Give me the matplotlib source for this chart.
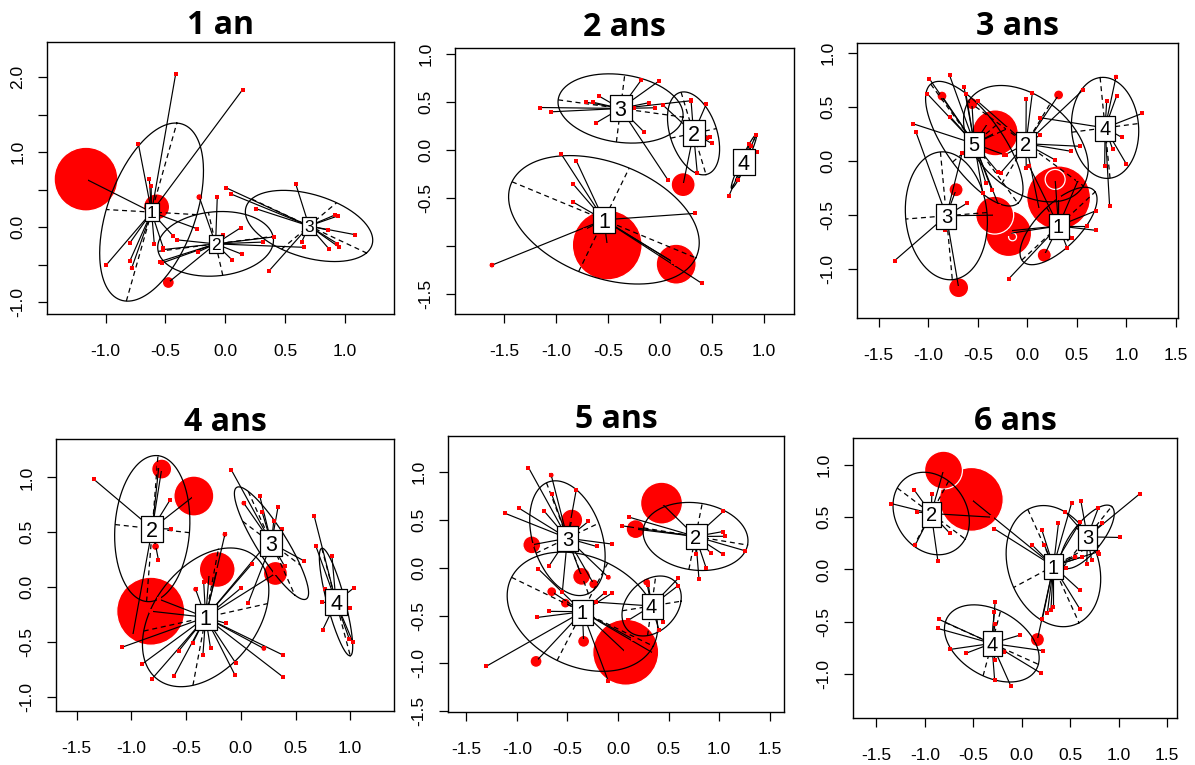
import numpy as np
import matplotlib
matplotlib.use("Agg")
import matplotlib.pyplot as plt
from matplotlib.path import Path

plt.rcParams['font.family'] = ['Liberation Sans', 'DejaVu Sans']
plt.rcParams['axes.unicode_minus'] = False

titles = ["1 an", "2 ans", "3 ans", "4 ans", "5 ans", "6 ans"]

# ---------------- Panel 1 (1 an) ----------------
p1_x = [-1.164, -0.415, 0.145, -0.727, -0.635, -0.997, -0.797, -0.797, -0.783, -0.593, -0.518, -0.435, -0.24, -0.574, -0.62,
        -0.067, -0.217, 0.128, 0.136, 0.058, 0.318, 0.41, 0.657, -0.407, -0.518, -0.546, -0.226, -0.476, -0.02, -0.53,
        0.006, 0.05, 0.256, 0.588, 0.368, 0.638, 0.866, 0.953, 1.08, 0.944, 0.86, 0.914, 0.936]
p1_y = [0.64, 2.04, 1.835, 1.115, 0.64, -0.51, -0.21, -0.45, -0.55, -0.23, -0.28, -0.12, -0.02, 0.27, 0.55,
        0.40, 0.40, -0.01, -0.36, -0.44, -0.20, -0.13, -0.27, -0.17, -0.30, -0.46, -0.33, -0.74, -0.10, -0.48,
        0.525, 0.44, 0.245, 0.58, -0.58, -0.20, -0.29, -0.27, -0.10, 0.15, -0.04, 0.16, -0.22]
p1_g = [1] * 15 + [2] * 15 + [3] * 13
p1_cx = [-0.616, -0.081, 0.70]
p1_cy = [0.20, -0.224, 0.015]
p1_ax = [0.211, 0.48, 0.48]
p1_ay = [1.188, 0.10, -0.36]
p1_bx = [-0.379, -0.06, 0.23]
p1_by = [0.034, 0.42, 0.31]
p1_bub_x = [-1.164, -0.574, -0.476, -0.217, -0.783, 0.136, 0.256, -0.02]
p1_bub_y = [0.64, 0.27, -0.74, 0.40, -0.55, -0.36, 0.245, -0.10]
p1_bub_v = [10.2, 1.7, 0.36, 0.12, 0.06, 0.06, 0.05, 0.05]
p1_xlim = (-1.49, 1.41)
p1_ylim = (-1.16, 2.47)
p1_xticks = [-1.0, -0.5, 0.0, 0.5, 1.0]
p1_xlabels = ["-1.0", "-0.5", "0.0", "0.5", "1.0"]
p1_yticks = [-1.0, -0.5, 0.0, 0.5, 1.0, 1.5, 2.0]
p1_ylabels = ["-1.0", "", "0.0", "", "1.0", "", "2.0"]

# ---------------- Panel 2 (2 ans) ----------------
p2_x = [-0.949, -0.804, -0.837, -0.837, -0.724, -1.615, -0.506, 0.34, 0.157, 0.404, 0.13,
        0.03, 0.446, 0.487, 0.50, 0.36, 0.224, 0.30, 0.45,
        -1.151, -1.045, -0.708, -0.644, -0.59, -0.612, -0.18, -0.01, -0.109, -0.051, -0.25, -0.154, 0.077, 0.295,
        0.663, 0.926, 0.936, 0.86, 0.88, 0.75]
p2_y = [-0.04, -0.11, -0.35, -0.54, -0.83, -1.20, -0.99, -0.66, -1.19, -1.39, -1.17,
        0.47, 0.48, 0.14, 0.07, -0.24, -0.36, 0.52, 0.13,
        0.445, 0.40, 0.50, 0.50, 0.567, 0.286, 0.73, 0.72, 0.494, 0.442, 0.435, 0.192, -0.31, 0.515,
        -0.48, 0.157, -0.02, 0.06, 0.04, -0.31]
p2_g = [1] * 11 + [2] * 8 + [3] * 14 + [4] * 6
p2_cx = [-0.538, 0.324, -0.378, 0.808]
p2_cy = [-0.727, 0.175, 0.435, -0.12]
p2_ax = [0.884, 0.12, 0.60, 0.118]
p2_ay = [-0.397, -0.43, -0.09, 0.28]
p2_bx = [0.243, 0.22, 0.04, 0.03]
p2_by = [0.54, 0.05, 0.35, -0.01]
p2_bub_x = [-0.506, 0.157, 0.224, -1.615]
p2_bub_y = [-0.99, -1.19, -0.36, -1.20]
p2_bub_v = [12.2, 4.0, 1.44, 0.09]
p2_xlim = (-1.97, 1.29)
p2_ylim = (-1.71, 1.066)
p2_xticks = [-1.5, -1.0, -0.5, 0.0, 0.5, 1.0]
p2_xlabels = ["-1.5", "-1.0", "-0.5", "0.0", "0.5", "1.0"]
p2_yticks = [-1.5, -1.0, -0.5, 0.0, 0.5, 1.0]
p2_ylabels = ["-1.5", "", "-0.5", "0.0", "0.5", "1.0"]

# ---------------- Panel 3 (3 ans) ----------------
p3_x = [0.69, 0.69, 0.60, -0.19, -0.18, 0.17, 0.28, 0.45, 0.515, 0.315, -0.19, 0.02, 0.40,
        -0.012, 0.05, -0.012, 0.13, 0.53, 0.44, 0.315, 0.566, -0.22, -0.27, 0.28, 0.12, -0.5,
        -1.34, -1.124, -0.694, -0.72, -0.61, -0.33, -0.66, -0.83,
        0.895, 1.16, 0.95, 0.86, 1.0, 0.78, 0.83, 0.80, 0.90, 0.13,
        -0.99, -0.785, -1.01, -1.157, -0.78, -0.64, -0.56, -0.862, -0.24, -0.285, -0.36, -0.325, -0.4, -0.45, -0.30, -0.42, -0.62, -0.2]
p3_y = [-0.46, -0.64, -0.60, -1.09, -0.645, -0.87, -0.17, -0.71, -0.17, -0.34, -0.67, -0.05, -0.8,
        0.57, 0.63, -0.065, 0.24, 0.136, 0.09, 0.61, 0.66, 0.06, -0.11, 0.01, -0.45, 0.55,
        -0.92, 0.265, -1.17, -0.265, -0.39, -0.50, 0.07, -0.64,
        0.78, 0.44, 0.22, 0.11, -0.03, -0.05, -0.42, 0.55, 0.60, 0.40,
        0.76, 0.79, 0.62, 0.345, 0.41, 0.685, 0.53, 0.60, 0.06, -0.42, -0.265, 0.26, 0.35, -0.30, -0.10, -0.2, 0.62, 0.3]
p3_g = [1] * 13 + [2] * 13 + [3] * 8 + [4] * 10 + [5] * 18
p3_cx = [0.314, -0.015, -0.818, 0.784, -0.536]
p3_cy = [-0.60, 0.16, -0.506, 0.306, 0.16]
p3_ax = [0.37, 0.58, 0.06, -0.05, 0.44]
p3_ay = [0.315, -0.39, -0.59, 0.465, -0.55]
p3_bx = [0.12, 0.245, -0.41, 0.336, 0.22]
p3_by = [-0.17, 0.37, -0.03, 0.04, 0.17]
p3_bub_x = [0.315, -0.325, -0.19, -0.33, 0.28, -0.694, -0.72, 0.17, -0.56, -0.862, 0.315, -0.15, 0.895, 0.566]
p3_bub_y = [-0.34, 0.26, -0.67, -0.50, -0.17, -1.17, -0.265, -0.87, 0.53, 0.60, 0.61, -0.70, 0.78, 0.66]
p3_bub_v = [10.2, 5.3, 5.3, 3.6, 1.0, 1.0, 0.5, 0.5, 0.36, 0.25, 0.25, 0.16, 0.06, 0.04]
p3_xlim = (-1.72, 1.52)
p3_ylim = (-1.45, 1.09)
p3_xticks = [-1.5, -1.0, -0.5, 0.0, 0.5, 1.0, 1.5]
p3_xlabels = ["-1.5", "-1.0", "-0.5", "0.0", "0.5", "1.0", "1.5"]
p3_yticks = [-1.0, -0.5, 0.0, 0.5, 1.0]
p3_ylabels = ["-1.0", "-0.5", "0.0", "0.5", "1.0"]

# ---------------- Panel 4 (4 ans) ----------------
p4_x = [-1.09, -0.90, -0.815, -0.61, -0.566, -0.44, -0.347, -0.277, -0.055, -0.049, 0.386, 0.386, 0.21, -0.14, 0.0,
        -0.29, -0.34, -0.146, -0.414, -0.75, -0.824, -0.216, 0.316, 0.10, 0.2,
        -1.347, -0.43, -0.65, -0.724, -0.64, -0.754, -0.78, -0.99, -0.75,
        -0.088, 0.173, 0.027, 0.34, 0.377, 0.575, 0.40, 0.067, 0.195, 0.30,
        0.67, 0.687, 0.833, 0.742, 0.748, 1.0, 1.03, 1.025, 0.99, 0.766]
p4_y = [-0.55, -0.70, -0.84, -0.81, -0.58, -0.51, -0.62, -0.56, -0.80, -0.69, -0.62, -0.82, -0.56, -0.33, -0.01,
        0.12, 0.05, 0.48, -0.02, -0.11, -0.22, 0.16, 0.124, 0.21, 0.35,
        0.985, 0.83, 0.79, 1.076, 0.53, 0.25, 0.37, -0.45, 1.10,
        1.07, 0.83, 0.765, 0.73, 0.525, 0.24, 0.19, -0.145, 0.68, 0.60,
        0.65, 0.37, 0.28, -0.14, -0.39, -0.19, -0.01, -0.505, -0.47, -0.02]
p4_g = [1] * 25 + [2] * 9 + [3] * 10 + [4] * 10
p4_cx = [-0.322, -0.81, 0.28, 0.87]
p4_cy = [-0.276, 0.533, 0.40, -0.136]
p4_ax = [0.116, 0.052, 0.213, 0.13]
p4_ay = [0.62, 0.665, -0.473, -0.49]
p4_bx = [0.566, 0.34, 0.264, 0.08]
p4_by = [0.125, -0.037, -0.2, 0.02]
p4_bub_x = [-0.824, -0.43, -0.216, 0.316, -0.724, -0.78, -0.146, 0.21, 0.027, -0.414]
p4_bub_y = [-0.22, 0.83, 0.16, 0.124, 1.076, 0.37, 0.48, -0.56, 0.765, -0.02]
p4_bub_v = [11.6, 4.0, 3.2, 1.44, 1.0, 0.16, 0.09, 0.09, 0.09, 0.09]
p4_xlim = (-1.69, 1.40)
p4_ylim = (-1.13, 1.35)
p4_xticks = [-1.5, -1.0, -0.5, 0.0, 0.5, 1.0]
p4_xlabels = ["-1.5", "-1.0", "-0.5", "0.0", "0.5", "1.0"]
p4_yticks = [-1.0, -0.5, 0.0, 0.5, 1.0]
p4_ylabels = ["-1.0", "-0.5", "0.0", "0.5", "1.0"]

# ---------------- Panel 5 (5 ans) ----------------
p5_x = [-1.30, -0.80, -0.79, -0.68, -0.095, 0.076, 0.359, -0.34, -0.81, -0.06, -0.13, -0.655, -0.52, 0.145,
        0.43, 0.036, 0.11, 0.174, 1.04, 1.06, 1.04, 0.92, 1.25, 0.87, 0.80, 0.77, 1.04,
        -0.885, -0.66, -0.98, -1.115, -0.727, -0.414, -0.655, -0.293, -0.21, -0.056, -0.852, -0.681, -0.457, -0.36, -0.24, -0.095, -0.55,
        0.595, 0.59, 0.447, 0.405, 0.283, -0.22, 0.10, 0.3]
p5_y = [-1.03, -0.52, -0.01, -0.456, -1.19, -0.884, -0.90, -0.77, -0.98, -0.265, -0.26, -0.25, -0.37, -0.745,
        0.677, 0.44, 0.53, 0.405, 0.38, 0.33, 0.14, 0.15, 0.18, 0.0, -0.12, 0.14, 0.59,
        1.05, 0.97, 0.625, 0.57, 0.59, 0.81, 0.77, 0.485, 0.223, 0.248, 0.24, 0.02, 0.50, -0.09, -0.17, -0.10, -0.25,
        -0.11, -0.19, -0.57, -0.65, -0.15, -0.36, -0.55, -0.18]
p5_g = [1] * 14 + [2] * 13 + [3] * 17 + [4] * 8
p5_cx = [-0.352, 0.766, -0.50, 0.332]
p5_cy = [-0.46, 0.328, 0.31, -0.40]
p5_ax = [0.70, 0.514, 0.207, 0.29]
p5_ay = [-0.36, -0.09, -0.58, 0.05]
p5_bx = [-0.25, 0.066, 0.31, 0.04]
p5_by = [-0.51, 0.345, 0.157, 0.31]
p5_bub_x = [0.076, 0.43, -0.457, 0.174, -0.852, -0.36, -0.34, -0.81, -0.655, -0.52, -0.24, 0.283, -0.66, -0.095]
p5_bub_y = [-0.884, 0.677, 0.50, 0.405, 0.24, -0.09, -0.77, -0.98, -0.25, -0.37, -0.17, -0.15, 0.97, -0.10]
p5_bub_v = [10.9, 4.4, 1.2, 0.9, 0.8, 0.8, 0.36, 0.36, 0.25, 0.25, 0.25, 0.16, 0.09, 0.09]
p5_xlim = (-1.68, 1.64)
p5_ylim = (-1.51, 1.38)
p5_xticks = [-1.5, -1.0, -0.5, 0.0, 0.5, 1.0, 1.5]
p5_xlabels = ["-1.5", "-1.0", "-0.5", "0.0", "0.5", "1.0", "1.5"]
p5_yticks = [-1.5, -1.0, -0.5, 0.0, 0.5, 1.0]
p5_ylabels = ["-1.5", "-1.0", "-0.5", "0.0", "0.5", "1.0"]

# ---------------- Panel 6 (6 ans) ----------------
p6_x = [-0.52, -0.285, 0.11, 0.206, 0.233, 0.378, 0.515, 0.60, 0.60, 0.60, 0.326, 0.30, 0.264, 0.213, 0.161, 0.453, 0.79, 0.55, 0.62,
        -1.346, -1.109, -1.08, -1.10, -0.865, -0.745, -0.807, -0.927, -0.31,
        1.22, 1.013, 0.83, 0.79, 0.61, 0.72, 0.67, 0.80, 0.45,
        -0.858, -0.865, -0.738, -0.573, -0.275, -0.285, -0.275, -0.017, 0.223, 0.196, -0.113, -0.28, -0.275, -0.18]
p6_y = [0.67, 0.39, 0.23, 0.38, 0.232, 0.44, 0.64, 0.45, -0.20, -0.38, -0.357, -0.39, -0.414, -0.47, -0.67, 0.01, 0.17, 0.12, 0.12,
        0.63, 0.76, 0.55, 0.23, 0.083, 0.35, 0.95, 0.72, 0.50,
        0.726, 0.306, 0.44, 0.59, 0.65, 0.09, 0.05, 0.15, 0.55,
        -0.475, -0.564, -0.764, -0.80, -0.31, -0.405, -0.52, -0.627, -0.777, -0.99, -1.115, -1.057, -0.866, -0.786]
p6_g = [1] * 19 + [2] * 9 + [3] * 9 + [4] * 14
p6_cx = [0.326, -0.934, 0.676, -0.309]
p6_cy = [0.032, 0.535, 0.312, -0.707]
p6_ax = [0.264, 0.35, 0.25, 0.48]
p6_ay = [-0.542, -0.244, 0.29, -0.2]
p6_bx = [-0.41, -0.18, 0.12, 0.09]
p6_by = [-0.204, -0.31, -0.09, 0.31]
p6_bub_x = [-0.52, -0.807, 0.161, 0.55, -0.18]
p6_bub_y = [0.67, 0.95, -0.67, 0.12, -0.786]
p6_bub_v = [10.2, 3.6, 0.5, 0.09, 0.09]
p6_xlim = (-1.74, 1.60)
p6_ylim = (-1.42, 1.257)
p6_xticks = [-1.5, -1.0, -0.5, 0.0, 0.5, 1.0, 1.5]
p6_xlabels = ["-1.5", "-1.0", "-0.5", "0.0", "0.5", "1.0", "1.5"]
p6_yticks = [-1.0, -0.5, 0.0, 0.5, 1.0]
p6_ylabels = ["-1.0", "-0.5", "0.0", "0.5", "1.0"]

panels = [
    (p1_x, p1_y, p1_g, p1_cx, p1_cy, p1_ax, p1_ay, p1_bx, p1_by, p1_bub_x, p1_bub_y, p1_bub_v,
     p1_xlim, p1_ylim, p1_xticks, p1_xlabels, p1_yticks, p1_ylabels),
    (p2_x, p2_y, p2_g, p2_cx, p2_cy, p2_ax, p2_ay, p2_bx, p2_by, p2_bub_x, p2_bub_y, p2_bub_v,
     p2_xlim, p2_ylim, p2_xticks, p2_xlabels, p2_yticks, p2_ylabels),
    (p3_x, p3_y, p3_g, p3_cx, p3_cy, p3_ax, p3_ay, p3_bx, p3_by, p3_bub_x, p3_bub_y, p3_bub_v,
     p3_xlim, p3_ylim, p3_xticks, p3_xlabels, p3_yticks, p3_ylabels),
    (p4_x, p4_y, p4_g, p4_cx, p4_cy, p4_ax, p4_ay, p4_bx, p4_by, p4_bub_x, p4_bub_y, p4_bub_v,
     p4_xlim, p4_ylim, p4_xticks, p4_xlabels, p4_yticks, p4_ylabels),
    (p5_x, p5_y, p5_g, p5_cx, p5_cy, p5_ax, p5_ay, p5_bx, p5_by, p5_bub_x, p5_bub_y, p5_bub_v,
     p5_xlim, p5_ylim, p5_xticks, p5_xlabels, p5_yticks, p5_ylabels),
    (p6_x, p6_y, p6_g, p6_cx, p6_cy, p6_ax, p6_ay, p6_bx, p6_by, p6_bub_x, p6_bub_y, p6_bub_v,
     p6_xlim, p6_ylim, p6_xticks, p6_xlabels, p6_yticks, p6_ylabels),
]

# ---------------- layout (pixel boxes: left, top, right, bottom) ----------------
W, H = 1195, 765
boxes = [(47, 42, 394, 314), (455, 48, 794, 314), (857, 43, 1178, 318),
         (56, 439, 394, 711), (448, 436, 784, 712), (853, 438, 1177, 718)]
title_pads = [4, 9, 6, 5, 3, 4]
label_box_pt = [13.0, 19.4, 18.0, 19.4, 18.0, 18.0]
label_box_aspect = [0.83, 0.81, 0.8, 0.78, 0.84, 0.76]
label_font = [12.5, 15.5, 14.5, 15.5, 14.5, 14.5]

fig = plt.figure(figsize=(W / 100, H / 100), dpi=100)
t = np.linspace(0, 2 * np.pi, 240)
BUB_SCALE = 207.0

for i, (pan, box) in enumerate(zip(panels, boxes)):
    (px, py, pg, cx, cy, eax, eay, ebx, eby, bx, by, bv,
     xlim, ylim, xt, xl, yt, yl) = pan
    l, tp, r, b = box
    ax = fig.add_axes([l / W, 1 - b / H, (r - l) / W, (b - tp) / H])
    ax.set_xlim(*xlim)
    ax.set_ylim(*ylim)

    # bubbles (largest first)
    bvv = np.asarray(bv)
    order = np.argsort(-bvv)
    ax.scatter(np.asarray(bx)[order], np.asarray(by)[order], s=bvv[order] * BUB_SCALE,
               c='#ff0000', edgecolors='white', linewidths=0.9, zorder=1)

    # ellipses with dashed axes
    for k in range(len(cx)):
        ex = cx[k] + eax[k] * np.cos(t) + ebx[k] * np.sin(t)
        ey = cy[k] + eay[k] * np.cos(t) + eby[k] * np.sin(t)
        ax.plot(ex, ey, color='black', lw=0.9, zorder=2)
        ax.plot([cx[k] - eax[k], cx[k] + eax[k]], [cy[k] - eay[k], cy[k] + eay[k]],
                color='black', lw=0.9, ls=(0, (4, 3)), zorder=2)
        ax.plot([cx[k] - ebx[k], cx[k] + ebx[k]], [cy[k] - eby[k], cy[k] + eby[k]],
                color='black', lw=0.9, ls=(0, (4, 3)), zorder=2)

    # star segments
    for x, y, g in zip(px, py, pg):
        ax.plot([cx[g - 1], x], [cy[g - 1], y], color='black', lw=0.85, zorder=3)
    ax.scatter(px, py, s=5, marker='s', c='#ff0000', linewidths=0, zorder=4)

    # group labels: white rectangle + number
    hw = 0.5 * label_box_aspect[i]
    rect = Path([(-hw, -0.5), (hw, -0.5), (hw, 0.5), (-hw, 0.5), (-hw, -0.5)],
                [Path.MOVETO, Path.LINETO, Path.LINETO, Path.LINETO, Path.CLOSEPOLY])
    ax.plot(cx, cy, ls='none', marker=rect, markersize=label_box_pt[i],
            markerfacecolor='white', markeredgecolor='black', markeredgewidth=0.9, zorder=5)
    for k in range(len(cx)):
        ax.text(cx[k], cy[k], str(k + 1), ha='center', va='center_baseline',
                fontsize=label_font[i], zorder=6)

    ax.set_xticks(xt)
    ax.set_xticklabels(xl)
    ax.set_yticks(yt)
    ax.set_yticklabels(yl, rotation=90, va='center')
    ax.tick_params(axis='both', direction='out', length=6.5, width=0.9, labelsize=12.5, colors='black')
    ax.tick_params(axis='x', pad=15)
    ax.tick_params(axis='y', pad=9)
    for sp in ax.spines.values():
        sp.set_linewidth(1.0)
    ax.set_title(titles[i], fontsize=23, fontweight='bold', family=['Open Sans', 'DejaVu Sans'],
                 pad=title_pads[i])

fig.savefig("out.png", dpi=100)
